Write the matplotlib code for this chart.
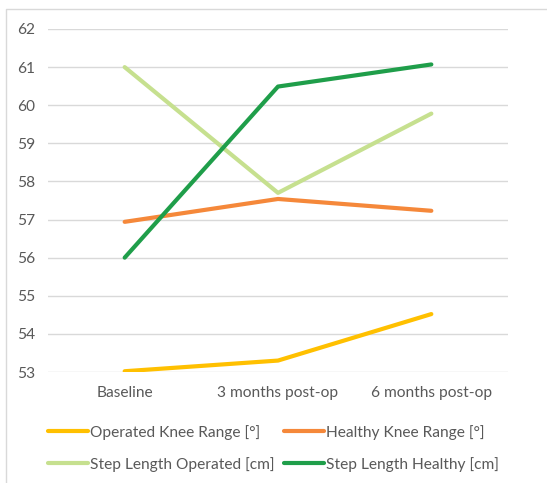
import matplotlib
matplotlib.use('Agg')
import matplotlib.pyplot as plt
from matplotlib.lines import Line2D

plt.rcParams['font.family'] = ['Lato', 'DejaVu Sans']

categories = ["Baseline", "3 months post-op", "6 months post-op"]
operated_knee = [53.02, 53.30, 54.52]
healthy_knee = [56.94, 57.54, 57.23]
step_operated = [61.00, 57.70, 59.78]
step_healthy = [56.00, 60.49, 61.07]

series_names = ["Operated Knee Range [°]", "Healthy Knee Range [°]",
                "Step Length Operated [cm]", "Step Length Healthy [cm]"]
series_values = [operated_knee, healthy_knee, step_operated, step_healthy]
colors = ["#FFC000", "#F5883A", "#C6E08F", "#1F9E4A"]

text_color = "#595959"
fs = 11.2

W, H = 547, 483
fig = plt.figure(figsize=(W / 100, H / 100), dpi=100)
ax = fig.add_axes([48 / W, 1 - 372 / H, 460 / W, 343 / H])

x = list(range(len(categories)))
lines = []
for vals, name, c in zip(series_values, series_names, colors):
    ln, = ax.plot(x, vals, color=c, lw=3, label=name, solid_capstyle='round', solid_joinstyle='round')
    lines.append(ln)

ax.set_xlim(-0.5, len(categories) - 0.5)
ax.set_ylim(53, 62)
ax.set_yticks(range(53, 63))
ax.set_xticks(x)
ax.set_xticklabels(categories)
ax.grid(axis='y', color='#D9D9D9', lw=1)
ax.set_axisbelow(True)
for s in ax.spines.values():
    s.set_visible(False)
ax.tick_params(axis='both', length=0, colors=text_color, labelsize=fs)
ax.tick_params(axis='y', pad=9)
ax.tick_params(axis='x', pad=10)

# chart frame (top and left edges)
fig.add_artist(Line2D([6 / W, 6 / W, 1], [0, 1 - 9 / H, 1 - 9 / H],
                      transform=fig.transFigure, color='#D9D9D9', lw=1))

# legend filled row by row (matplotlib fills columns first)
order = [0, 2, 1, 3]
leg = ax.legend([lines[i] for i in order], [series_names[i] for i in order],
                ncol=2, loc='upper left', bbox_to_anchor=(48 / W, 1 - 425 / H),
                bbox_transform=fig.transFigure, frameon=False, fontsize=fs,
                handlelength=2.55, handletextpad=0.13, columnspacing=0.65,
                labelspacing=1.08, borderaxespad=0, borderpad=0)
for t in leg.get_texts():
    t.set_color(text_color)

fig.savefig("out.png", dpi=100)
